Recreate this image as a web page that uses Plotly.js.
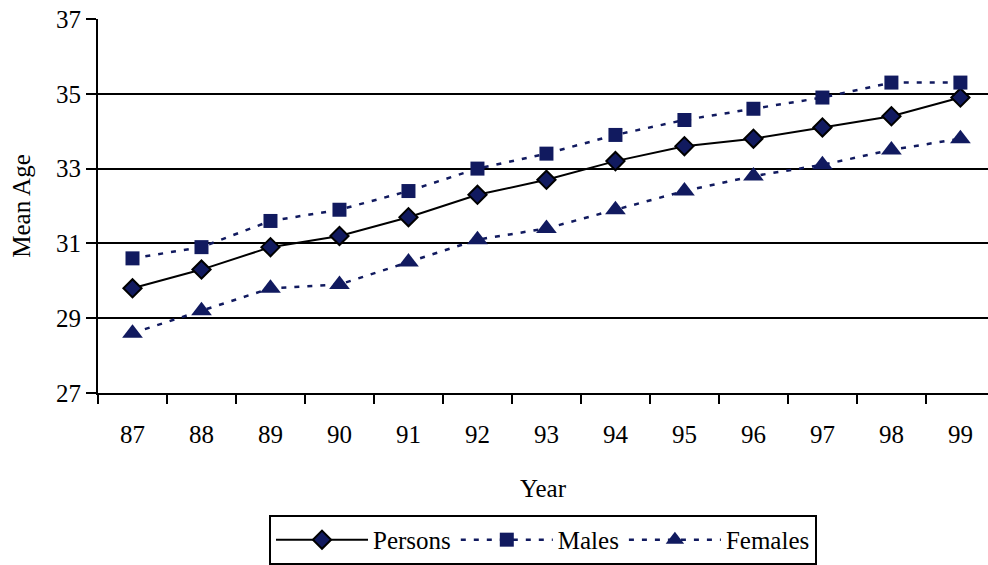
<!DOCTYPE html>
<html>
<head>
<meta charset="utf-8">
<script src="https://cdn.plot.ly/plotly-3.0.1.min.js"></script>
<style>html,body{margin:0;padding:0;background:#fff;}#chart{width:988px;height:565px;}</style>
</head>
<body>
<div id="chart"></div>
<script>
const years = ['87','88','89','90','91','92','93','94','95','96','97','98','99'];
const persons = [29.8,30.3,30.9,31.2,31.7,32.3,32.7,33.2,33.6,33.8,34.1,34.4,34.9];
const males = [30.6,30.9,31.6,31.9,32.4,33.0,33.4,33.9,34.3,34.6,34.9,35.3,35.3];
const females = [28.6,29.2,29.8,29.9,30.5,31.1,31.4,31.9,32.4,32.8,33.1,33.5,33.8];
const yTicks = [27,29,31,33,35,37];

const navy = '#111a5f';
const font = 'Liberation Serif, Times New Roman, serif';
const fs = 25;

const traces = [
  {x: years, y: persons, name: 'Persons', type: 'scatter', mode: 'lines+markers',
   line: {color: '#000', width: 2}, marker: {symbol: 'diamond', size: 14, color: navy, line: {color: '#000', width: 2}}},
  {x: years, y: males, name: 'Males', type: 'scatter', mode: 'lines+markers',
   line: {color: navy, width: 2.5, dash: '5px,8px'}, marker: {symbol: 'square', size: 14, color: navy, line: {width: 0}}},
  {x: years, y: females, name: 'Females', type: 'scatter', mode: 'lines+markers',
   line: {color: navy, width: 2.5, dash: '5px,8px'}, marker: {symbol: 'triangle-up', size: 18, color: navy, line: {width: 0}}}
];

const layout = {
  width: 988, height: 565,
  margin: {l: 98, r: 0, t: 19, b: 172},
  paper_bgcolor: '#fff', plot_bgcolor: '#fff',
  font: {family: font, size: fs, color: '#000'},
  showlegend: true,
  legend: {orientation: 'h', x: 0.5, xanchor: 'center', y: -0.326, yanchor: 'top',
           bordercolor: '#000', borderwidth: 2, font: {family: font, size: fs, color: '#000'},
           tracegroupgap: 0, itemwidth: 92},
  xaxis: {type: 'category', range: [-0.5, 12.4], tickson: 'boundaries', ticks: 'outside', ticklen: 9,
          tickwidth: 2, tickcolor: '#000', showgrid: false, showline: true, linecolor: '#000', linewidth: 2,
          zeroline: false, tickfont: {family: font, size: fs}, ticklabelstandoff: 18,
          title: {text: 'Year', font: {family: font, size: fs}, standoff: 32}},
  yaxis: {range: [27, 37], tickmode: 'array', tickvals: yTicks, ticktext: yTicks.map(String),
          ticks: 'outside', ticklen: 10, tickwidth: 2, tickcolor: '#000',
          showgrid: true, gridcolor: '#000', gridwidth: 2, showline: true, linecolor: '#000', linewidth: 2,
          zeroline: false, tickfont: {family: font, size: fs},
          title: {text: 'Mean Age', font: {family: font, size: fs}, standoff: 18}}
};

Plotly.newPlot('chart', traces, layout, {displayModeBar: false, staticPlot: true});
</script>
</body>
</html>
